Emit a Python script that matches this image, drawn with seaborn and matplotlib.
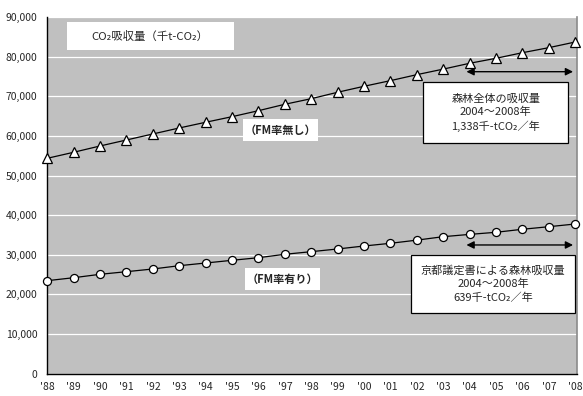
import matplotlib
matplotlib.use("Agg")
import matplotlib.pyplot as plt
import matplotlib.ticker as mticker
from matplotlib.patches import Rectangle
import numpy as np
import pandas as pd
import seaborn as sns

# Fiscal years and tick labels
years = list(range(1988, 2009))
year_labels = ["'" + str(y)[2:] for y in years]

# CO2 absorption (thousand t-CO2)
without_fm = [54350, 55870, 57460, 58970, 60490, 62000, 63440, 64850, 66360, 67980,
              69390, 71010, 72520, 73940, 75450, 76850, 78320, 79580, 80990, 82260, 83690]
with_fm = [23470, 24220, 25080, 25740, 26420, 27250, 27930, 28610, 29270, 30130,
           30790, 31470, 32220, 32900, 33700, 34570, 35150, 35680, 36440, 37090, 37770]

title_text = "CO₂吸収量（千t-CO₂）"
label_without = "（FM率無し）"
label_with = "（FM率有り）"
note_total = "森林全体の吸収量\n2004～2008年\n1,338千-tCO₂／年"
note_kyoto = "京都議定書による森林吸収量\n2004～2008年\n639千-tCO₂／年"

sns.set_style("white")
plt.rcParams["font.family"] = ["Noto Sans CJK JP", "DejaVu Sans"]

fig = plt.figure(figsize=(5.83, 3.96), dpi=100)
W, H = 583, 396
ax = fig.add_axes([47.3 / W, 1 - 373.7 / H, (576.5 - 47.3) / W, (373.7 - 17) / H])
ax.set_facecolor("#C0C0C0")

df_without = pd.DataFrame({"year": years, "value": without_fm})
df_with = pd.DataFrame({"year": years, "value": with_fm})

sns.lineplot(data=df_without, x="year", y="value", ax=ax, color="black", lw=0.9,
             marker="^", markersize=7.2, markerfacecolor="white",
             markeredgecolor="black", markeredgewidth=0.9, zorder=5, clip_on=False)
sns.lineplot(data=df_with, x="year", y="value", ax=ax, color="black", lw=0.9,
             marker="o", markersize=5.8, markerfacecolor="white",
             markeredgecolor="black", markeredgewidth=0.9, zorder=5, clip_on=False)

ax.set_xlim(1988, 2008.05)
ax.set_ylim(0, 90000)
ax.set_xticks(years)
ax.set_xticklabels(year_labels)
ax.set_yticks(np.arange(0, 90001, 10000))
ax.yaxis.set_major_formatter(mticker.FuncFormatter(lambda v, p: f"{int(v):,}"))
ax.grid(axis="y", color="white", lw=0.9)
ax.set_axisbelow(True)
ax.set_xlabel("")
ax.set_ylabel("")

ax.spines["top"].set_visible(False)
ax.spines["right"].set_color("#8a8a8a")
ax.spines["right"].set_linewidth(1.2)
ax.spines["left"].set_color("black")
ax.spines["bottom"].set_color("black")
ax.spines["left"].set_linewidth(1)
ax.spines["bottom"].set_linewidth(1)

ax.tick_params(axis="x", direction="in", length=4, width=0.8, color="black",
               labelsize=7.5, pad=6)
ax.tick_params(axis="y", direction="in", length=0, labelsize=7.5, pad=7)


def box(x0, x1, y0, y1, edge=None):
    ax.add_patch(Rectangle((x0, y0), x1 - x0, y1 - y0, facecolor="white",
                           edgecolor=edge if edge else "none", lw=0.9, zorder=6))


# Title box
box(1988.75, 1995.06, 81680, 88740)
ax.text((1988.75 + 1995.06) / 2, 85200, title_text, ha="center", va="center",
        fontsize=8.2, zorder=7)

# Series labels
box(1995.40, 1998.25, 58720, 64260)
ax.text(1996.83, 61500, label_without, ha="center", va="center", fontsize=8,
        fontweight="bold", zorder=7)
box(1995.48, 1998.33, 21120, 26670)
ax.text(1996.9, 23900, label_with, ha="center", va="center", fontsize=8,
        fontweight="bold", zorder=7)

# Period notes
box(2002.25, 2007.73, 58220, 73610, edge="black")
ax.text(2004.99, 65900, note_total, ha="center", va="center", fontsize=8,
        linespacing=1.35, zorder=7)
box(2001.79, 2007.99, 15320, 29950, edge="black")
ax.text(2004.89, 22600, note_kyoto, ha="center", va="center", fontsize=8,
        linespacing=1.35, zorder=7)

# Averaging-period arrows
for yv in (76200, 32480):
    ax.annotate("", xy=(2007.92, yv), xytext=(2003.88, yv),
                arrowprops=dict(arrowstyle="<|-|>", color="black", lw=1,
                                mutation_scale=11, shrinkA=0, shrinkB=0),
                zorder=8)

fig.savefig("out.png", dpi=100, facecolor="white")
